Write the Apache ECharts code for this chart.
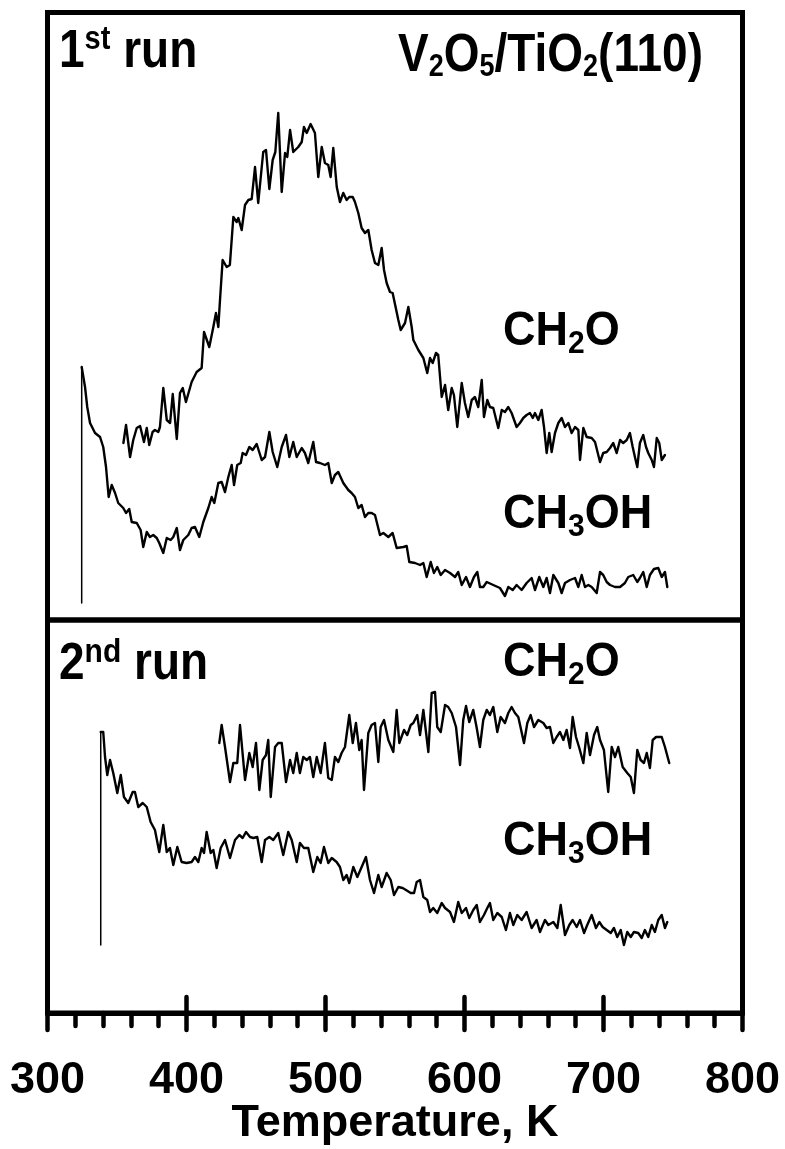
<!DOCTYPE html>
<html>
<head>
<meta charset="utf-8">
<script src="https://cdn.jsdelivr.net/npm/echarts@6/dist/echarts.min.js"></script>
<style>
html,body{margin:0;padding:0;background:#fff;}
#chart{width:785px;height:1149px;}
</style>
</head>
<body>
<div id="chart"></div>
<script>
// ---- Data (temperature in K, intensity in arbitrary units) ----
const xTicks = [300, 400, 500, 600, 700, 800];

// 1st run, CH2O
const run1Ch2o = [[354.6,17.7],[356.5,19.5],[359.4,16.3],[361.7,18.0],[364.2,19.2],[366.6,19.4],[369.4,17.8],[371.4,19.2],[373.2,17.5],[375.6,18.8],[377.3,19.0],[379.7,18.8],[380.9,19.3],[383.3,23.2],[385.8,20.0],[388.2,19.7],[390.1,22.6],[393.0,18.1],[395.3,22.7],[397.3,23.2],[399.6,21.8],[403.7,23.8],[407.3,24.8],[410.9,25.2],[412.6,28.8],[416.4,27.3],[419.3,29.3],[421.2,30.7],[422.9,29.3],[424.1,32.0],[426.0,36.0],[427.0,36.2],[428.9,35.3],[431.2,35.5],[433.7,40.3],[436.1,39.8],[437.3,40.2],[439.7,39.0],[442.1,41.5],[444.5,42.0],[446.9,42.1],[449.3,45.3],[451.6,41.7],[455.2,46.8],[457.2,47.0],[459.6,43.1],[462.0,46.0],[463.9,46.8],[466.0,50.7],[468.5,42.8],[470.9,46.7],[472.5,46.3],[474.5,49.0],[476.8,46.8],[480.4,47.3],[482.9,47.8],[484.5,49.3],[486.5,48.7],[489.3,49.6],[492.4,48.7],[494.8,44.3],[497.3,47.3],[499.6,45.7],[502.0,45.5],[503.7,44.3],[505.6,47.2],[508.1,43.3],[510.4,41.8],[512.8,42.7],[515.2,42.0],[517.1,42.3],[519.6,42.3],[521.2,41.8],[523.6,40.7],[526.0,39.2],[528.4,38.7],[530.8,39.0],[533.2,37.0],[535.6,35.7],[538.0,35.5],[540.4,37.2],[542.1,35.0],[544.0,33.7],[546.4,32.8],[548.3,32.7],[552.4,30.0],[554.1,29.0],[557.2,29.7],[559.6,31.3],[562.0,29.3],[563.2,28.0],[566.8,27.0],[570.4,26.2],[573.2,24.7],[575.2,26.2],[577.1,25.7],[579.5,26.7],[581.1,26.5],[583.6,22.3],[586.0,23.5],[588.3,21.0],[590.8,23.2],[592.4,22.5],[594.8,19.3],[598.0,23.7],[600.3,21.7],[602.7,20.3],[605.2,22.0],[607.5,22.3],[609.9,21.3],[612.4,24.0],[614.0,20.3],[616.4,22.0],[618.3,21.3],[620.7,21.2],[624.3,19.2],[626.8,21.0],[629.1,20.8],[631.5,21.3],[633.9,20.7],[637.5,19.3],[639.9,19.7],[642.3,20.2],[644.7,20.5],[647.1,20.7],[649.1,20.2],[650.7,20.7],[653.1,20.0],[655.5,21.0],[657.2,19.3],[659.1,16.7],[661.0,18.7],[662.7,16.8],[665.1,18.7],[667.5,19.7],[669.9,20.2],[672.3,19.3],[674.7,19.7],[677.1,18.7],[679.5,19.3],[681.9,19.0],[683.1,16.0],[685.5,19.2],[687.9,18.3],[691.5,18.2],[693.9,17.8],[697.5,15.8],[699.8,16.7],[702.3,16.8],[704.7,17.2],[707.0,17.7],[709.5,16.7],[711.9,18.0],[714.2,17.7],[716.7,18.0],[719.0,18.7],[721.0,17.3],[722.6,16.3],[724.3,15.3],[726.2,17.7],[728.6,18.5],[730.6,17.3],[732.2,16.7],[734.7,16.0],[736.3,15.3],[738.3,18.2],[740.1,17.7],[741.9,16.0],[744.2,16.5]];

// 1st run, CH3OH (initial rise, then the curve)
const run1Ch3ohRise = [[324.6,1.7],[324.6,25.3]];
const run1Ch3oh = [[324.6,25.3],[327.0,23.3],[328.6,21.3],[330.6,19.7],[334.2,18.7],[337.8,18.3],[340.1,17.3],[342.1,15.3],[344.0,12.3],[346.2,13.5],[348.6,12.7],[350.9,11.7],[354.5,11.2],[356.5,10.7],[358.8,11.1],[360.6,9.8],[364.2,9.7],[367.0,9.0],[368.9,7.3],[371.4,8.8],[373.7,8.3],[376.1,8.5],[378.6,8.2],[380.4,7.7],[383.3,6.7],[385.8,8.2],[388.6,8.0],[390.5,8.3],[393.0,9.2],[395.3,7.0],[397.7,8.0],[401.3,8.5],[403.7,9.2],[406.1,9.3],[409.2,8.3],[412.1,9.8],[415.7,11.2],[418.1,12.3],[420.0,11.7],[422.9,13.7],[425.3,13.8],[427.7,12.8],[430.1,14.3],[432.5,15.5],[434.2,13.5],[436.5,15.5],[439.0,15.7],[440.4,16.7],[442.8,16.5],[445.2,17.3],[447.6,17.0],[450.5,17.6],[454.1,16.0],[456.5,16.3],[459.6,18.8],[462.0,16.8],[465.3,15.3],[468.5,17.3],[471.6,18.5],[474.0,16.3],[476.8,17.8],[479.3,16.3],[482.9,17.2],[485.2,16.7],[487.6,15.7],[491.2,17.8],[493.2,15.8],[496.0,15.7],[499.6,15.5],[502.0,15.7],[504.5,13.7],[506.8,14.5],[509.2,14.8],[512.8,13.7],[516.4,13.0],[518.8,12.7],[521.2,12.3],[523.6,11.2],[526.0,11.5],[528.4,10.3],[530.8,10.7],[533.2,10.7],[535.6,10.5],[539.2,8.5],[541.6,8.7],[545.2,8.3],[548.3,8.7],[551.2,7.2],[552.4,7.3],[556.0,7.3],[558.4,7.4],[560.3,5.8],[564.4,5.7],[568.0,5.5],[570.4,5.7],[572.8,4.3],[575.7,5.8],[578.0,4.7],[580.4,5.3],[582.9,4.5],[586.0,5.0],[589.6,4.7],[593.2,4.3],[595.5,4.8],[598.0,3.5],[601.1,4.3],[603.9,3.3],[606.8,4.3],[609.2,4.8],[611.1,3.3],[613.5,3.3],[616.0,3.8],[620.7,3.5],[625.5,3.2],[629.1,2.4],[631.5,3.3],[634.7,3.0],[637.5,3.5],[641.1,3.0],[644.7,3.7],[648.3,4.2],[650.7,3.0],[653.8,4.3],[656.7,3.3],[659.1,4.2],[661.5,2.7],[663.9,4.5],[667.5,3.7],[669.9,2.7],[672.3,3.7],[675.9,4.0],[679.5,4.2],[681.9,3.3],[684.3,4.5],[686.7,3.3],[689.1,3.5],[691.5,3.3],[695.1,2.7],[697.5,4.8],[699.8,4.5],[702.3,3.8],[704.7,3.5],[708.3,3.3],[711.9,3.3],[715.4,3.7],[717.8,4.3],[721.4,4.5],[724.3,3.8],[726.2,4.2],[728.6,4.8],[731.1,3.3],[733.4,4.5],[736.3,5.1],[739.4,5.2],[741.9,4.3],[744.2,4.8],[745.9,3.3]];

// 2nd run, CH2O
const run2Ch2o = [[423.6,27.0],[425.3,28.8],[427.7,26.6],[431.3,23.1],[433.7,25.0],[436.5,25.0],[438.5,28.8],[439.7,29.0],[442.1,23.3],[445.2,26.0],[447.6,24.6],[450.0,27.0],[452.4,22.3],[454.8,25.3],[457.2,25.8],[458.8,27.3],[460.6,21.6],[463.7,26.6],[466.0,27.0],[468.5,27.0],[471.6,23.1],[474.5,25.3],[476.8,24.0],[479.3,26.0],[481.6,24.0],[484.0,25.6],[486.5,25.3],[488.8,25.6],[491.2,23.6],[493.7,25.6],[496.5,24.0],[499.6,27.0],[502.0,23.5],[504.5,23.3],[506.8,25.6],[509.2,25.1],[511.6,26.0],[514.0,26.6],[517.1,29.8],[519.6,27.0],[521.9,29.0],[524.3,26.3],[526.0,27.3],[527.7,22.3],[530.8,28.0],[533.2,28.8],[535.6,29.0],[538.0,25.1],[539.7,28.6],[542.1,29.3],[545.2,27.3],[548.8,26.1],[551.2,30.3],[553.1,27.0],[556.5,28.3],[558.8,27.8],[561.3,28.8],[563.2,29.0],[566.0,29.8],[568.0,27.8],[570.4,30.3],[574.0,26.1],[576.4,32.0],[578.8,32.1],[580.4,28.6],[582.9,28.1],[586.0,30.8],[588.3,30.6],[590.8,30.0],[593.9,28.6],[596.8,24.8],[599.1,29.3],[601.1,30.7],[603.4,29.1],[606.3,30.3],[608.8,28.5],[611.1,26.6],[613.5,29.3],[616.0,30.3],[618.3,29.8],[620.7,30.6],[623.6,28.1],[626.0,29.6],[629.1,29.0],[631.5,30.0],[633.9,30.6],[636.3,30.0],[638.7,29.6],[642.8,27.0],[645.2,29.0],[647.6,29.8],[650.0,28.6],[653.1,29.3],[656.7,29.0],[659.1,28.5],[661.5,28.6],[663.9,27.0],[666.3,27.6],[668.7,28.1],[671.1,27.3],[673.5,28.3],[675.9,26.5],[677.8,29.6],[680.2,27.6],[682.6,26.5],[685.5,25.0],[687.9,28.0],[690.3,25.8],[693.2,27.8],[695.5,28.6],[697.5,27.3],[700.3,26.3],[703.4,22.1],[705.9,26.6],[708.3,25.6],[710.6,26.6],[713.8,24.6],[717.1,24.0],[719.6,23.6],[721.9,22.0],[724.3,26.3],[726.7,25.3],[729.1,25.0],[731.1,26.0],[733.4,24.5],[735.4,27.3],[737.8,27.6],[741.9,27.6],[744.2,26.6],[747.3,25.0]];

// 2nd run, CH3OH (initial rise, then the curve)
const run2Ch3ohRise = [[338.3,6.8],[338.3,28.1]];
const run2Ch3oh = [[338.3,28.1],[340.1,28.1],[341.4,25.6],[343.0,23.8],[345.0,25.3],[347.3,24.0],[350.2,22.0],[352.7,23.8],[355.0,21.6],[358.1,21.0],[361.3,22.1],[362.9,22.1],[365.3,20.6],[368.5,21.0],[371.4,20.6],[374.2,19.1],[377.3,18.3],[380.4,16.1],[383.3,18.8],[385.8,16.1],[388.1,16.5],[390.5,14.8],[393.4,16.6],[396.5,15.1],[400.1,15.0],[403.7,15.1],[406.1,15.6],[408.5,15.1],[410.9,16.5],[412.6,16.0],[414.5,18.1],[417.4,16.0],[419.3,16.3],[421.7,14.5],[424.6,16.5],[427.7,17.3],[431.3,15.5],[434.9,17.3],[438.0,17.8],[440.4,17.5],[442.8,18.1],[445.7,17.6],[448.1,17.5],[450.9,17.6],[454.1,15.1],[456.5,17.3],[459.6,17.6],[462.4,17.3],[466.0,18.0],[469.6,15.8],[473.2,18.1],[475.7,17.3],[479.3,15.1],[481.6,17.0],[484.5,16.5],[487.6,16.5],[491.2,14.1],[494.1,15.6],[496.5,15.0],[498.9,16.6],[502.0,15.0],[504.5,15.5],[508.0,15.1],[510.4,14.6],[512.8,13.3],[515.2,13.8],[517.1,13.0],[520.0,14.6],[522.9,13.6],[526.0,14.6],[529.1,15.6],[532.0,13.3],[534.9,12.0],[538.0,13.8],[540.4,12.6],[544.0,14.0],[546.9,13.3],[549.3,11.8],[552.4,12.6],[555.5,12.5],[557.9,12.3],[561.3,12.0],[563.7,12.0],[565.6,13.1],[568.0,13.3],[570.4,11.6],[573.2,11.3],[575.2,10.1],[577.5,10.5],[580.4,10.0],[583.6,11.0],[586.0,10.5],[589.6,10.1],[592.4,9.1],[595.5,11.1],[598.0,10.0],[601.1,10.5],[603.4,9.5],[606.3,10.3],[608.8,10.8],[611.1,9.1],[614.0,9.8],[616.4,10.5],[618.3,11.0],[620.7,9.3],[623.6,10.0],[626.8,9.6],[629.8,8.3],[632.7,10.0],[635.1,8.8],[638.0,9.8],[641.1,9.3],[644.7,10.1],[648.3,8.5],[651.9,9.3],[654.3,8.1],[657.9,9.3],[660.3,8.8],[663.9,9.1],[666.8,8.5],[669.2,10.8],[672.3,7.8],[675.4,8.8],[677.8,9.3],[680.7,8.6],[683.1,9.3],[686.0,8.0],[688.3,8.8],[691.5,9.8],[694.6,8.5],[697.0,9.1],[699.4,8.6],[702.3,8.3],[705.2,8.0],[707.5,8.5],[709.9,7.6],[712.4,8.3],[714.7,6.8],[717.1,8.1],[719.6,7.6],[721.9,8.1],[725.0,8.0],[727.5,7.5],[729.8,8.3],[732.2,7.6],[734.7,8.8],[737.0,8.1],[739.4,9.3],[741.9,9.8],[744.2,8.5],[745.9,9.1]];

// ---- Chart ----
const FONT = '"Liberation Sans", Arial, Helvetica, sans-serif';
const chart = echarts.init(document.getElementById('chart'), null, {renderer: 'canvas'});

function curve(data, xi, yi, width) {
  return {
    type: 'line', xAxisIndex: xi, yAxisIndex: yi, data: data,
    showSymbol: false, symbol: 'none', smooth: false, silent: true,
    lineStyle: {color: '#000', width: width, join: 'round', cap: 'round'},
    z: 3
  };
}

function rs(size, pad) {
  const o = {fontSize: size, fontWeight: 'bold', fontFamily: FONT, fill: '#000', lineHeight: 60};
  if (pad) o.padding = pad;
  return o;
}

function label(x, y, text, mainSize, subSize, subPad, supPad, scaleY) {
  return {
    type: 'text', x: x, y: y, scaleY: scaleY || 1, silent: true, z: 10,
    style: {
      x: 0, y: 0, text: text, align: 'left', verticalAlign: 'middle',
      fontSize: mainSize, fontWeight: 'bold', fontFamily: FONT, fill: '#000', lineHeight: 60,
      rich: {
        m: rs(mainSize),
        sub: rs(subSize, [subPad, 0, 0, 0]),
        sup: rs(subSize, [0, 0, supPad, 0])
      }
    }
  };
}

const tickStyle = {color: '#000', width: 4.5, cap: 'round'};

const option = {
  animation: false,
  backgroundColor: '#fff',
  grid: [
    {left: 47.5, right: 42.5, top: 12.5, height: 607.5, show: true, borderWidth: 5, borderColor: '#000',
     backgroundColor: 'transparent', containLabel: false, outerBoundsMode: 'none'},
    {left: 47.5, right: 42.5, top: 620, bottom: 136, show: true, borderWidth: 5, borderColor: '#000',
     backgroundColor: 'transparent', containLabel: false, outerBoundsMode: 'none'}
  ],
  xAxis: [
    {gridIndex: 0, type: 'value', min: xTicks[0], max: xTicks[xTicks.length - 1], interval: 100, show: false},
    {gridIndex: 1, type: 'value', min: xTicks[0], max: xTicks[xTicks.length - 1], interval: 100, position: 'bottom',
     axisLine: {show: true, onZero: false, lineStyle: {color: '#000', width: 5}},
     axisTick: {show: true, inside: false, length: 17, lineStyle: tickStyle},
     minorTick: {show: true, splitNumber: 5, length: 13, lineStyle: tickStyle},
     splitLine: {show: false}, minorSplitLine: {show: false},
     axisLabel: {show: true, margin: 45, color: '#000', fontSize: 45, fontWeight: 'bold', fontFamily: FONT,
                 formatter: function (v) { return String(v); }},
     name: 'Temperature, K', nameLocation: 'middle', nameGap: 88, nameMoveOverlap: false,
     nameTextStyle: {color: '#000', fontSize: 45, fontWeight: 'bold', fontFamily: FONT}},
    {gridIndex: 1, type: 'value', min: xTicks[0], max: xTicks[xTicks.length - 1], interval: 100, position: 'bottom',
     axisLine: {show: false, onZero: false},
     axisTick: {show: true, inside: true, length: 16, lineStyle: tickStyle},
     axisLabel: {show: false}, splitLine: {show: false}}
  ],
  yAxis: [
    {gridIndex: 0, type: 'value', min: 0, max: 60.75, show: false, splitLine: {show: false}},
    {gridIndex: 1, type: 'value', min: 0, max: 39.3, show: false, splitLine: {show: false}}
  ],
  series: [
    curve(run1Ch2o, 0, 0, 2.4),
    curve(run1Ch3ohRise, 0, 0, 1.5),
    curve(run1Ch3oh, 0, 0, 2.4),
    curve(run2Ch2o, 1, 1, 2.4),
    curve(run2Ch3ohRise, 1, 1, 1.5),
    curve(run2Ch3oh, 1, 1, 2.4)
  ],
  graphic: {
    elements: [
      label(59, 52.5, '{m|1}{sup|st}{m| run}', 46, 29, 24, 22, 1.17),
      label(59, 665, '{m|2}{sup|nd}{m| run}', 46, 30, 24, 22, 1.12),
      label(398, 56, '{m|V}{sub|2}{m|O}{sub|5}{m|/TiO}{sub|2}{m|(110)}', 46, 27, 20, 0, 1.15),
      label(503, 332, '{m|CH}{sub|2}{m|O}', 45, 30, 24, 0, 1.05),
      label(503, 515, '{m|CH}{sub|3}{m|OH}', 45, 30, 24, 0, 1.05),
      label(503, 663, '{m|CH}{sub|2}{m|O}', 45, 30, 24, 0, 1.05),
      label(503, 842, '{m|CH}{sub|3}{m|OH}', 45, 30, 24, 0, 1.05)
    ]
  }
};

chart.setOption(option);
</script>
</body>
</html>
